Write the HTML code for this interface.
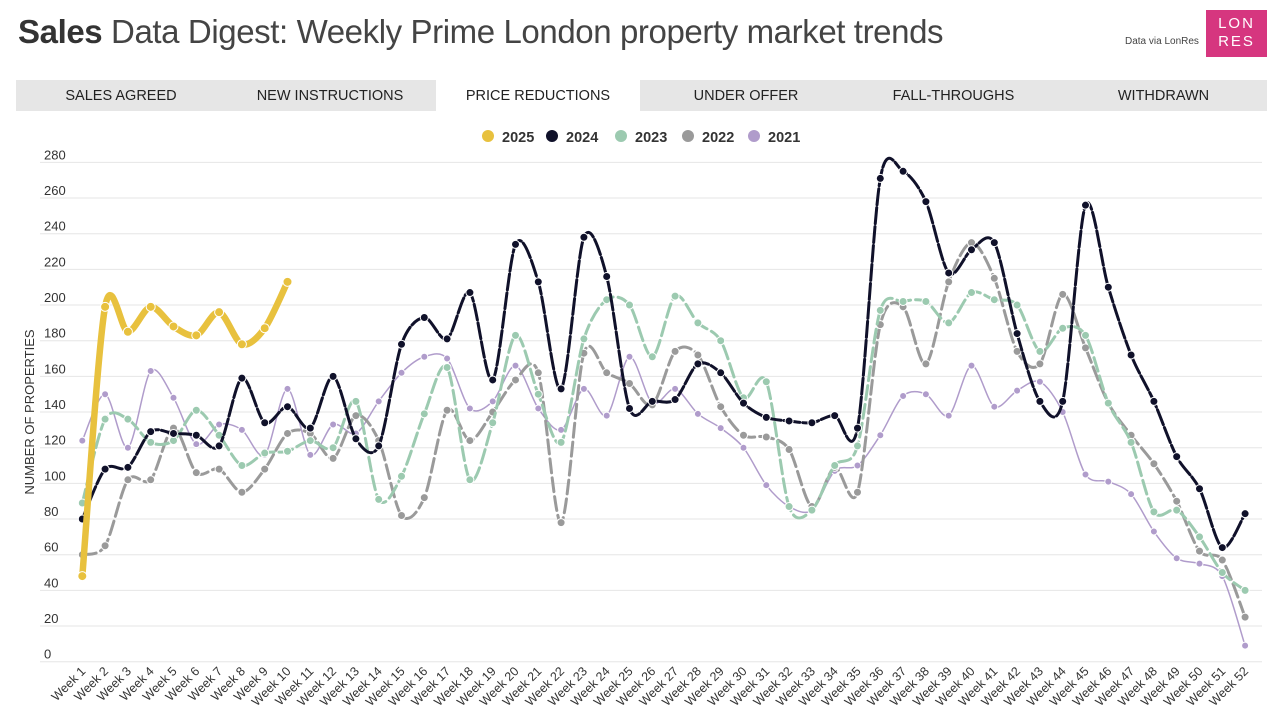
<!DOCTYPE html>
<html><head><meta charset="utf-8"><style>
body{margin:0;width:1280px;height:723px;background:#fff;font-family:"Liberation Sans",sans-serif;overflow:hidden;position:relative}
.title{position:absolute;left:18px;top:13px;font-size:33px;color:#444;letter-spacing:-0.4px}
.title b{color:#333}
.via{position:absolute;left:1125px;top:36px;font-size:10px;color:#444}
.logo{position:absolute;left:1206px;top:10px;width:61px;height:47px;background:#d6367f;color:#fff;font-size:15px;line-height:18px;text-align:center;letter-spacing:2px;padding-top:5px;box-sizing:border-box}
.tabs{position:absolute;left:16px;top:80px;width:1251px;height:31px;background:#e6e6e6}
.tab{position:absolute;top:0;height:31px;line-height:33px;font-size:14.5px;color:#222;text-align:center}
.tab.act{background:#fff}
</style></head><body>
<div class="title"><b>Sales</b> Data Digest: Weekly Prime London property market trends</div>
<div class="via">Data via LonRes</div>
<div class="logo">LON<br>RES</div>
<div class="tabs">
<div class="tab" style="left:20px;width:170px">SALES AGREED</div>
<div class="tab" style="left:220px;width:188px">NEW INSTRUCTIONS</div>
<div class="tab act" style="left:420px;width:204px">PRICE REDUCTIONS</div>
<div class="tab" style="left:650px;width:160px">UNDER OFFER</div>
<div class="tab" style="left:850px;width:175px">FALL-THROUGHS</div>
<div class="tab" style="left:1070px;width:155px">WITHDRAWN</div>
</div>
<svg id="c" width="1280" height="723" style="position:absolute;left:0;top:0"></svg>
<script>
const NS="http://www.w3.org/2000/svg",svg=document.getElementById('c');
function el(t,a,txt){const e=document.createElementNS(NS,t);for(const k in a)e.setAttribute(k,a[k]);if(txt!=null)e.textContent=txt;svg.appendChild(e);return e;}
const X=w=>82.3+22.8*(w-1),Y=v=>661.7-1.7833*v;
for(let v=0;v<=280;v+=20){el('line',{x1:40,x2:1262,y1:Y(v),y2:Y(v),stroke:'#e6e6e6','stroke-width':1});
el('text',{x:44,y:Y(v)-3,'font-size':13,fill:'#333'},v);}
el('text',{x:0,y:0,'font-size':13,fill:'#333',transform:'translate(34,412) rotate(-90)','text-anchor':'middle'},'NUMBER OF PROPERTIES');
for(let w=1;w<=52;w++){el('text',{x:0,y:0,'font-size':12.5,fill:'#333','text-anchor':'end',transform:`translate(${X(w)+4},${672}) rotate(-45)`},'Week '+w);}
const leg=[['2025','#e8c13e',480],['2024','#10112a',544],['2023','#9ccab0',613],['2022','#9a9a9a',680],['2021','#b09ccb',746]];
leg.forEach(l=>{el('circle',{cx:l[2]+8,cy:136,r:6,fill:l[1]});el('text',{x:l[2]+22,y:142,'font-size':14.5,'font-weight':'bold',fill:'#333'},l[0]);});
const D={
'2021':[124,150,120,163,148,122,133,130,116,153,116,133,128,146,162,171,170,142,146,166,142,130,153,138,171,145,153,139,131,120,99,87,85,107,110,127,149,150,138,166,143,152,157,140,105,101,94,73,58,55,48,9],
'2022':[60,65,102,102,131,106,108,95,108,128,128,114,138,124,82,92,141,124,140,158,162,78,173,162,156,144,174,172,143,127,126,119,87,109,95,189,199,167,213,235,215,174,167,206,176,145,127,111,90,62,57,25],
'2023':[89,136,136,123,124,141,127,110,117,118,124,120,146,91,104,139,165,102,134,183,150,123,181,203,200,171,205,190,180,148,157,87,85,110,121,197,202,202,190,207,203,200,174,187,183,145,123,84,85,70,50,40],
'2024':[80,108,109,129,128,127,121,159,134,143,131,160,125,121,178,193,181,207,158,234,213,153,238,216,142,146,147,167,162,145,137,135,134,138,131,271,275,258,218,231,235,184,146,146,256,210,172,146,115,97,64,83],
'2025':[48,199,185,199,188,183,196,178,187,213]};
function path(a){const p=a.map((v,i)=>[X(i+1),Y(v)]);let d=`M${p[0][0]},${p[0][1]}`;
for(let i=0;i<p.length-1;i++){const p0=p[i-1]||p[i],p1=p[i],p2=p[i+1],p3=p[i+2]||p2;const t=0.15;
const c1=[p1[0]+(p2[0]-p0[0])*t,p1[1]+(p2[1]-p0[1])*t],c2=[p2[0]-(p3[0]-p1[0])*t,p2[1]-(p3[1]-p1[1])*t];
d+=`C${c1[0]},${c1[1]} ${c2[0]},${c2[1]} ${p2[0]},${p2[1]}`;}return d;}
const S=[['2021','#b09ccb',1.5,null,3.5],['2022','#9a9a9a',3,'14,5',4],['2023','#9ccab0',3,'14,5',4],['2024','#10112a',3,'16,3',4],['2025','#e8c13e',6.5,null,4.5]];
S.forEach(s=>{const a={d:path(D[s[0]]),fill:'none',stroke:s[1],'stroke-width':s[2],'stroke-linecap':'round'};if(s[3])a['stroke-dasharray']=s[3];el('path',a);
D[s[0]].forEach((v,i)=>el('circle',{cx:X(i+1),cy:Y(v),r:s[4],fill:s[1],stroke:'#fff','stroke-width':1}));});
</script>
</body></html>
